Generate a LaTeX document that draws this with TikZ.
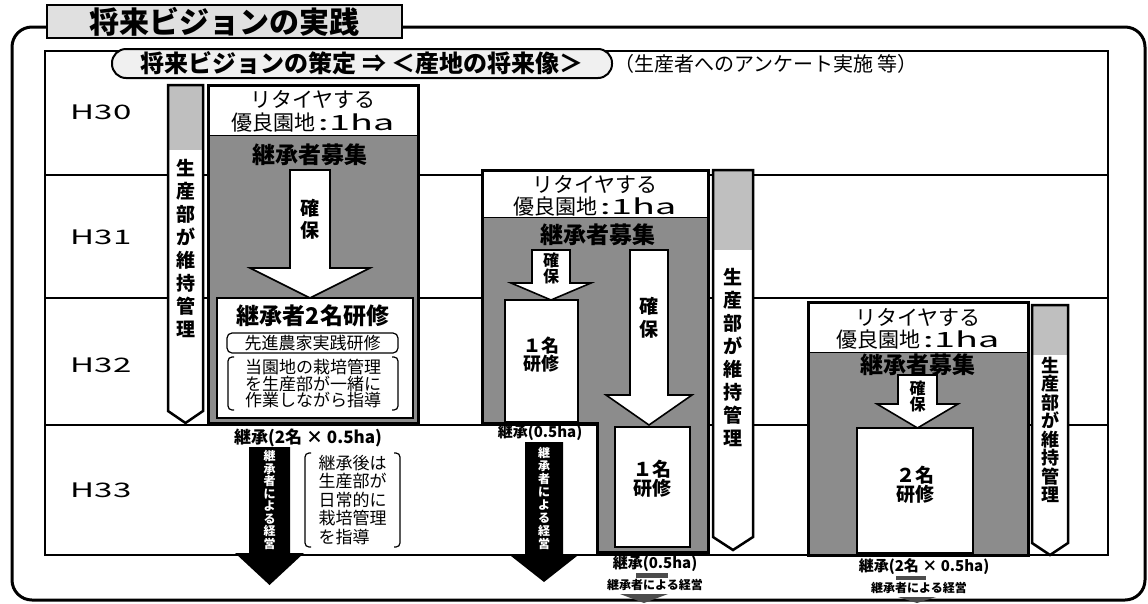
\documentclass[tikz,border=0pt]{standalone}
\usepackage{fontspec}
\setmainfont{Noto Sans CJK JP}
\newcommand\fz[2]{\fontsize{#1}{#2}\selectfont}
\newcommand\wide[1]{\scalebox{1.65}[1]{#1}}
\newcommand\ha{優良園地\,\scalebox{1.8}[1]{:1ha}}
\tikzset{
  lbl/.style={inner sep=0pt, align=center},
  warr/.style={draw, line width=1.6pt, fill=white},
  darr/.style={fill=black},
  wbox/.style={draw, line width=1.2pt, fill=white},
  graybg/.style={fill=black!45},
  capfill/.style={fill=black!25},
  heavy/.style={draw, line width=3pt},
  brk/.style={line width=1.2pt, rounded corners=4pt},
  mini/.style={fill=black!70},
  yearlbl/.style={inner sep=0pt, font=\fz{20}{20}}
}
\begin{document}
\begin{tikzpicture}[x=1pt,y=-1pt]
\useasboundingbox (0,0) rectangle (1148,603);
% outer frame
\draw[line width=3pt, rounded corners=20pt] (60,27) -- (1145,27) -- (1145,600) -- (12,600) -- (12,27) -- cycle;
% inner table
\draw[line width=2pt] (45,51) rectangle (1108,555);
\foreach \yy in {175,298,425} \draw[line width=1.6pt] (45,\yy) -- (1108,\yy);
% title
\node[draw, line width=2.5pt, fill=black!12, minimum width=355pt, minimum height=33pt, inner sep=0pt, font=\fz{30}{30}\bfseries] (title) at (224.5,21.5) {将来ビジョンの実践};
% vision oval
\node[draw, line width=2pt, fill=black!6, rounded corners=14pt, minimum width=500pt, minimum height=29pt, inner sep=0pt, font=\fz{24}{24}\bfseries] (vision) at (362,63.5) {将来ビジョンの策定 ⇒ ＜産地の将来像＞};
\node[lbl, anchor=west, font=\fz{20}{20}] (survey) at (614,64) {（生産者へのアンケート実施 等）};
% row labels
\node[yearlbl] (h30) at (101,112) {\wide{H30}};
\node[yearlbl] (h31) at (101,237) {\wide{H31}};
\node[yearlbl] (h32) at (101,365) {\wide{H32}};
\node[yearlbl] (h33) at (101,490) {\wide{H33}};

% ===== left column =====
\fill[white] (168,85) -- (203,85) -- (203,411) -- (185.5,423) -- (168,411) -- cycle;
\fill[capfill] (168,85) rectangle (203,150);
\draw[line width=2.5pt] (168,85) -- (203,85) -- (203,411) -- (185.5,423) -- (168,411) -- cycle;
\node[lbl, font=\fz{19}{23}\bfseries] (prodL) at (185.5,248) {生\\産\\部\\が\\維\\持\\管\\理};

\fill[graybg] (208,135) rectangle (418,423);
\fill[white] (208,85) rectangle (418,135);
\draw[line width=1pt] (208,135) -- (418,135);
\draw[heavy] (208,85) rectangle (418,423);
\node[lbl, font=\fz{21}{23}] (retL) at (313,111) {リタイヤする\\\ha};
\node[lbl, font=\fz{23}{23}\bfseries] (recL) at (310,155) {継承者募集};
\draw[wbox] (217,298) rectangle (413,418);
\draw[warr] (290,170) -- (330,170) -- (330,268) -- (370,268) -- (310,298) -- (250,268) -- (290,268) -- cycle;
\node[lbl, font=\fz{19}{22}\bfseries] (secL) at (310,219) {確\\保};
\node[lbl, font=\fz{23}{23}\bfseries] (trL) at (313,316) {継承者2名研修};
\node[draw, rounded corners=5pt, line width=1.2pt, minimum width=171pt, minimum height=20pt, inner sep=0pt, font=\fz{17}{17}] (adv) at (312.5,343) {先進農家実践研修};
\node[lbl, font=\fz{17}{16.5}] (guideL) at (313,383.5) {当園地の栽培管理\\を生産部が一緒に\\作業しながら指導};
\draw[brk] (234,357) -- (228,357) -- (228,410) -- (234,410);
\draw[brk] (392,357) -- (398,357) -- (398,410) -- (392,410);

\node[lbl, font=\fz{17}{17}\bfseries] (inhL) at (308,438) {継承(2名 × 0.5ha)};
\fill[darr] (249,447) -- (290,447) -- (290,553) -- (304,553) -- (269.5,585) -- (235,553) -- (249,553) -- cycle;
\node[lbl, text=white, font=\fz{12}{12.5}\bfseries] (mgmtL) at (269.5,500) {継\\承\\者\\に\\よ\\る\\経\\営};
\node[lbl, align=left, font=\fz{17}{18.5}] (afterL) at (352.5,500) {継承後は\\生産部が\\日常的に\\栽培管理\\を指導};
\draw[brk] (311,453) -- (305,453) -- (305,547) -- (311,547);
\draw[brk] (394,453) -- (400,453) -- (400,547) -- (394,547);

% ===== middle column =====
\fill[white] (713,170) -- (753,170) -- (753,537) -- (733,550) -- (713,537) -- cycle;
\fill[capfill] (713,170) rectangle (753,250);
\draw[line width=2.5pt] (713,170) -- (753,170) -- (753,537) -- (733,550) -- (713,537) -- cycle;
\node[lbl, font=\fz{19}{23}\bfseries] (prodM) at (733,357) {生\\産\\部\\が\\維\\持\\管\\理};

\fill[graybg] (482,217) -- (708,217) -- (708,552) -- (597,552) -- (597,423) -- (482,423) -- cycle;
\fill[white] (482,170) rectangle (708,217);
\draw[line width=1pt] (482,217) -- (708,217);
\draw[heavy] (482,170) -- (708,170) -- (708,552) -- (597,552) -- (597,423) -- (482,423) -- cycle;
\node[lbl, font=\fz{21}{22}] (retM) at (595,196) {リタイヤする\\\ha};
\node[lbl, font=\fz{23}{23}\bfseries] (recM) at (598,235) {継承者募集};
\draw[wbox] (505,300) rectangle (578,422);
\draw[warr] (532,250) -- (570,250) -- (570,283) -- (591,283) -- (551,300) -- (511,283) -- (532,283) -- cycle;
\node[lbl, font=\fz{16}{15}\bfseries] (secM1) at (551,268) {確\\保};
\node[lbl, font=\fz{18}{18}\bfseries] (trM1) at (541.5,355) {１名\\研修};
\draw[wbox] (615,427) rectangle (690,547);
\draw[warr] (630,250) -- (668,250) -- (668,395) -- (692,395) -- (649,425) -- (606,395) -- (630,395) -- cycle;
\node[lbl, font=\fz{19}{23}\bfseries] (secM2) at (649,318) {確\\保};
\node[lbl, font=\fz{19}{19}\bfseries] (trM2) at (652.5,479) {１名\\研修};

\node[lbl, font=\fz{15}{15}\bfseries] (inhM1) at (540,433) {継承(0.5ha)};
\fill[darr] (525,442) -- (563,442) -- (563,556) -- (577,556) -- (544,582) -- (511,556) -- (525,556) -- cycle;
\node[lbl, text=white, font=\fz{12}{13}\bfseries] (mgmtM1) at (544,498) {継\\承\\者\\に\\よ\\る\\経\\営};
\fill[mini] (636,573) rectangle (668,578);
\fill[mini] (620,594) -- (668,594) -- (644,603) -- cycle;
\node[lbl, font=\fz{15}{15}\bfseries] (inhM2) at (655,564) {継承(0.5ha)};
\node[lbl, font=\fz{12}{12}\bfseries] (mgmtM2) at (655,585) {継承者による経営};

% ===== right column =====
\fill[white] (1032,305) -- (1068,305) -- (1068,543) -- (1050,555) -- (1032,543) -- cycle;
\fill[capfill] (1032,305) rectangle (1068,355);
\draw[line width=2.5pt] (1032,305) -- (1068,305) -- (1068,543) -- (1050,555) -- (1032,543) -- cycle;
\node[lbl, font=\fz{18}{18.5}\bfseries] (prodR) at (1050,430) {生\\産\\部\\が\\維\\持\\管\\理};

\fill[graybg] (808,352) rectangle (1028,555);
\fill[white] (808,302) rectangle (1028,352);
\draw[line width=1pt] (808,352) -- (1028,352);
\draw[heavy] (808,302) rectangle (1028,555);
\node[lbl, font=\fz{21}{22}] (retR) at (918,329) {リタイヤする\\\ha};
\node[lbl, font=\fz{23}{23}\bfseries] (recR) at (918,365) {継承者募集};
\draw[wbox] (857,428) rectangle (973,553);
\draw[warr] (898,375) -- (937,375) -- (937,404) -- (958,404) -- (917.5,428) -- (877,404) -- (898,404) -- cycle;
\node[lbl, font=\fz{16}{15}\bfseries] (secR) at (917.5,396) {確\\保};
\node[lbl, font=\fz{19}{19}\bfseries] (trR) at (915,485) {２名\\研修};
\fill[mini] (896,576) rectangle (926,580);
\fill[mini] (898,597) -- (936,597) -- (917,603) -- cycle;
\node[lbl, font=\fz{15}{15}\bfseries] (inhR) at (924,567) {継承(2名 × 0.5ha)};
\node[lbl, font=\fz{12}{12}\bfseries] (mgmtR) at (919,588) {継承者による経営};
\end{tikzpicture}
\end{document}
